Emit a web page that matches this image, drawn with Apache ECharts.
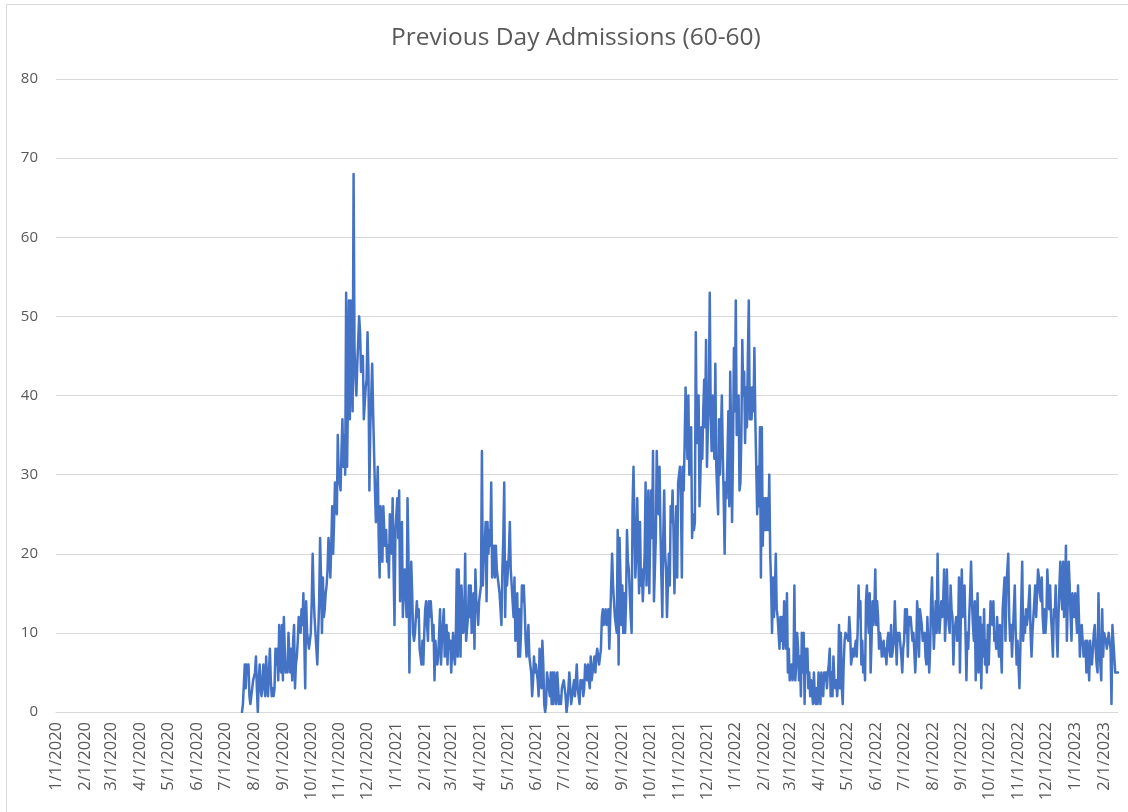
<!DOCTYPE html>
<html>
<head>
<meta charset="utf-8">
<script src="https://cdn.jsdelivr.net/npm/echarts@6/dist/echarts.min.js"></script>
<style>
html,body{margin:0;padding:0;background:#ffffff;}
#chart{width:1128px;height:812px;}
</style>
</head>
<body>
<div id="chart"></div>
<script>
const chartTitle = 'Previous Day Admissions (60-60)';
const axisStart = '2020-01-01';   // first category on the date axis
const seriesStart = '2020-07-19'; // first day that has a value
const yMin = 0, yMax = 80, yStep = 10;

// daily values, Jul 19 2020 .. Dec 31 2020 (one line per month)
const v2020 = [
  0,1,1,6,3,6,5,6,2,1,1,3,4,
  4,5,7,3,0,4,6,3,2,4,6,3,2,7,4,2,5,8,4,2,3,2,3,8,6,8,4,11,6,5,11,
  4,12,8,5,6,5,10,7,5,8,4,9,11,3,6,7,9,12,11,10,13,11,15,9,3,14,10,10,8,9,
  10,14,20,15,12,10,8,6,10,14,22,17,10,17,12,13,15,16,18,22,20,17,21,26,20,24,29,27,25,35,30,
  30,28,33,37,31,35,30,53,31,40,52,37,52,44,38,68,46,42,40,44,47,50,48,43,44,45,37,39,41,42,
  48,43,28,36,40,44,38,33,28,24,27,31,22,17,26,24,19,26,23,21,23,19,21,17,25,22,20,27,18,11,23
];
// daily values, 2021
const v2021 = [
  23,27,22,28,14,20,24,12,16,18,15,12,27,20,5,14,19,15,10,9,10,10,14,12,13,8,7,6,9,6,10,
  13,14,11,9,14,12,14,12,9,11,4,9,7,6,7,10,13,6,9,11,13,7,10,11,6,10,8,9,
  5,8,10,7,6,10,18,7,18,12,7,16,13,10,11,20,9,9,12,16,12,16,10,12,15,8,18,14,13,11,14,
  14,16,33,16,20,21,24,14,24,20,23,21,29,17,19,21,17,21,18,17,17,15,13,11,18,22,29,12,19,16,
  16,20,24,18,16,14,12,17,9,13,15,7,13,7,10,16,14,16,13,9,7,9,11,7,6,5,2,4,7,5,6,
  5,4,2,8,5,3,9,6,1,0,1,5,5,3,2,5,1,5,1,5,3,1,5,3,1,2,1,3,3,4,
  4,2,0,1,3,5,3,1,2,3,4,2,4,6,3,2,1,4,3,4,2,3,6,5,4,6,4,3,7,4,5,
  6,7,5,7,8,7,6,7,8,12,13,11,11,13,11,12,13,8,12,16,20,16,14,12,12,10,23,6,22,17,11,
  16,10,15,10,14,23,19,18,15,12,10,26,31,24,17,20,27,21,15,24,16,18,14,17,20,29,16,21,28,15,
  23,28,22,33,14,18,22,33,28,25,31,23,17,12,22,28,20,18,12,16,20,16,26,24,28,23,15,20,26,17,29,
  29,31,27,17,31,28,34,41,36,32,40,30,33,36,22,25,23,24,48,34,37,40,26,30,36,32,38,42,36,47,
  31,36,40,53,38,33,40,35,32,44,31,28,25,37,30,35,40,33,27,20,29,27,32,38,26,43,35,24,33,46,38
];
// daily values, 2022
const v2022 = [
  52,35,38,40,28,29,35,47,40,43,34,41,36,45,52,37,41,37,41,38,46,37,37,25,31,26,36,17,36,21,27,
  23,27,23,27,23,30,20,16,10,17,12,15,20,13,12,10,8,12,9,12,8,14,10,8,15,5,8,4,
  4,6,4,5,16,4,6,10,8,4,7,2,10,5,10,1,8,5,8,3,5,2,4,4,1,5,2,1,3,1,5,
  3,1,5,3,2,5,4,5,3,5,6,8,2,5,2,7,4,3,4,2,4,11,3,10,3,1,6,9,10,10,
  10,9,12,10,6,7,8,7,8,9,7,10,16,12,14,6,9,5,7,4,14,16,12,10,15,5,9,14,11,13,18,
  11,14,12,8,10,9,7,8,9,7,8,6,9,10,8,7,11,7,8,9,14,10,6,10,9,10,10,7,5,8,
  9,13,10,13,7,12,11,12,12,9,10,10,5,8,14,12,7,13,13,11,9,9,10,7,6,12,12,5,8,14,17,
  12,8,8,14,10,20,13,10,10,14,12,14,18,9,12,18,13,11,10,16,13,12,6,10,10,12,9,10,17,5,12,
  18,12,14,16,10,4,10,8,12,15,19,14,11,9,14,4,10,15,5,9,12,3,11,7,13,6,9,5,11,6,
  6,14,12,11,14,9,10,8,12,9,7,11,11,5,13,15,17,9,16,16,20,12,9,11,7,10,10,16,10,6,9,
  9,3,8,14,19,9,12,10,13,11,12,14,16,10,7,10,12,14,16,12,12,18,17,15,14,17,12,10,13,10,
  12,18,15,13,16,12,10,7,13,12,16,10,7,12,16,19,15,13,19,12,14,21,9,14,19,16,12,9,15,13,12
];
// daily values, Jan 1 2023 .. Feb 16 2023
const v2023 = [
  15,12,10,16,12,7,10,11,9,7,8,9,5,9,7,4,9,7,6,8,10,11,8,6,5,15,9,6,4,13,7,
  10,10,9,8,9,10,9,8,1,11,9,7,5,5,5,5
];

const values = [].concat(v2020, v2021, v2022, v2023);

// build the day-by-day date categories (M/D/YYYY)
const DAY = 86400000;
const t0 = Date.parse(axisStart + 'T00:00:00Z');
const offset = Math.round((Date.parse(seriesStart + 'T00:00:00Z') - t0) / DAY);
const categories = [];
const seriesData = [];
for (let i = 0; i < offset + values.length; i++) {
  const d = new Date(t0 + i * DAY);
  categories.push((d.getUTCMonth() + 1) + '/' + d.getUTCDate() + '/' + d.getUTCFullYear());
  seriesData.push(i < offset ? null : values[i - offset]);
}

const FONT = '"Open Sans", "Noto Sans", sans-serif';
const chart = echarts.init(document.getElementById('chart'), null, {renderer: 'canvas'});
chart.setOption({
  animation: false,
  backgroundColor: '#ffffff',
  title: {
    text: chartTitle,
    left: 386,
    top: 21,
    padding: 5,
    textStyle: {fontFamily: FONT, fontSize: 24.5, fontWeight: 'normal', color: '#595959'}
  },
  graphic: [{
    type: 'rect',
    shape: {x: 6.5, y: 4.5, width: 1300, height: 1000},
    style: {fill: 'none', stroke: '#d9d9d9', lineWidth: 1},
    silent: true
  }],
  grid: {left: 56, right: 10, top: 79, bottom: 100, containLabel: false},
  xAxis: {
    type: 'category',
    data: categories,
    boundaryGap: false,
    axisLine: {show: true, lineStyle: {color: '#d9d9d9', width: 1}},
    axisTick: {show: false},
    splitLine: {show: false},
    axisLabel: {
      interval: function (idx, val) { return val.split('/')[1] === '1'; },
      rotate: 90,
      margin: 10,
      fontFamily: FONT,
      fontSize: 16.5,
      color: '#595959'
    }
  },
  yAxis: {
    type: 'value',
    min: yMin,
    max: yMax,
    interval: yStep,
    axisLine: {show: false},
    axisTick: {show: false},
    splitLine: {show: true, lineStyle: {color: '#d9d9d9', width: 1}},
    axisLabel: {margin: 18, fontFamily: FONT, fontSize: 15, color: '#595959'}
  },
  series: [{
    type: 'line',
    data: seriesData,
    showSymbol: false,
    symbol: 'none',
    connectNulls: false,
    lineStyle: {color: '#4472C4', width: 2.5, join: 'round', cap: 'round'},
    itemStyle: {color: '#4472C4'}
  }]
});
</script>
</body>
</html>
